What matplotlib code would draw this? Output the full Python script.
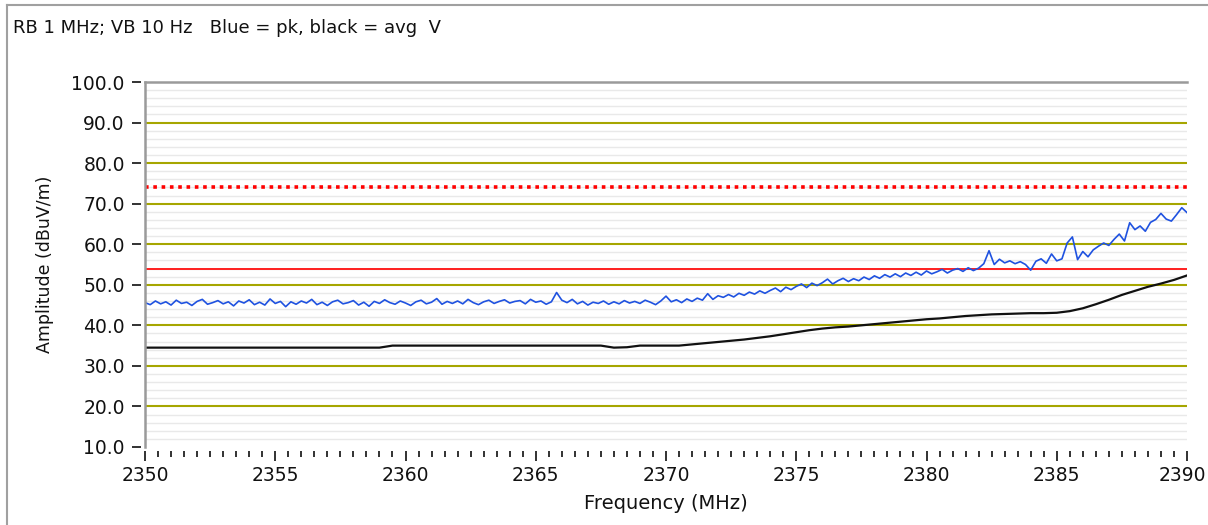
import numpy as np
import matplotlib
matplotlib.use("Agg")
import matplotlib.pyplot as plt
from matplotlib.lines import Line2D
from matplotlib.ticker import MultipleLocator
from matplotlib.transforms import ScaledTranslation

# ---------------- data ----------------
title_text = "RB 1 MHz; VB 10 Hz   Blue = pk, black = avg  V"
x_label = "Frequency (MHz)"
y_label = "Amplitude (dBuV/m)"

freq_start, freq_stop = 2350.0, 2390.0
y_ticks = [10, 20, 30, 40, 50, 60, 70, 80, 90, 100]
x_ticks = [2350, 2355, 2360, 2365, 2370, 2375, 2380, 2385, 2390]

limit_peak = 74.0   # red dotted
limit_avg = 54.0    # red solid

# peak trace, every 0.2 MHz from 2350 to 2390
peak_values = [
    45.6, 45.1, 46.0, 45.3, 45.8,
    45.0, 46.2, 45.4, 45.7, 44.9,
    45.9, 46.4, 45.2, 45.6, 46.1,
    45.3, 45.8, 44.8, 46.0, 45.5,
    46.3, 45.1, 45.7, 45.0, 46.5,
    45.4, 45.9, 44.6, 45.8, 45.2,
    46.0, 45.5, 46.4, 45.1, 45.7,
    44.9, 45.8, 46.2, 45.3, 45.6,
    46.1, 45.0, 45.7, 44.7, 45.9,
    45.4, 46.3, 45.6, 45.2, 46.0,
    45.5, 44.9, 45.8, 46.2, 45.3,
    45.7, 46.6, 45.2, 45.9, 45.4,
    46.0, 45.3, 46.4, 45.6, 45.1,
    45.8, 46.2, 45.4, 45.9, 46.3,
    45.5, 45.9, 46.1, 45.3, 46.4,
    45.7, 46.0, 45.2, 45.8, 48.1,
    46.2, 45.6, 46.4, 45.3, 45.9,
    45.0, 45.7, 45.4, 46.0, 45.2,
    45.8, 45.3, 46.1, 45.5, 45.9,
    45.4, 46.2, 45.7, 45.1, 46.0,
    47.2, 45.8, 46.3, 45.6, 46.5,
    45.9, 46.7, 46.2, 47.8, 46.4,
    47.3, 46.9, 47.6, 47.0, 47.9,
    47.4, 48.2, 47.7, 48.5, 47.9,
    48.6, 49.2, 48.3, 49.4, 48.8,
    49.6, 50.2, 49.3, 50.4, 49.8,
    50.5, 51.4, 50.2, 51.0, 51.6,
    50.8, 51.5, 51.0, 51.9, 51.3,
    52.2, 51.6, 52.5, 51.9, 52.7,
    52.0, 52.9, 52.3, 53.1, 52.4,
    53.4, 52.7, 53.2, 53.8, 52.9,
    53.6, 54.0, 53.3, 54.2, 53.5,
    54.1, 55.2, 58.4, 55.0, 56.3,
    55.4, 55.9, 55.2, 55.7, 55.0,
    53.6, 55.8, 56.4, 55.3, 57.6,
    55.9, 56.4, 60.3, 61.8, 56.2,
    58.2, 56.9, 58.6, 59.5, 60.3,
    59.7, 61.2, 62.5, 60.8, 65.3,
    63.6, 64.5, 63.2, 65.4, 66.1,
    67.6, 66.2, 65.7, 67.3, 69.0,
    67.8,
]

# average trace, every 0.5 MHz from 2350 to 2390
avg_values = [
    34.5, 34.5, 34.5, 34.5, 34.5, 34.5, 34.5, 34.5, 34.5, 34.5,
    34.5, 34.5, 34.5, 34.5, 34.5, 34.5, 34.5, 34.5, 34.5,
    35.0, 35.0, 35.0, 35.0, 35.0, 35.0, 35.0, 35.0, 35.0, 35.0,
    35.0, 35.0, 35.0, 35.0, 35.0, 35.0, 35.0,
    34.5, 34.6, 35.0, 35.0, 35.0, 35.0, 35.3, 35.6, 35.9, 36.2,
    36.5, 36.9, 37.3, 37.8, 38.3, 38.8, 39.2, 39.5, 39.7, 40.0,
    40.3, 40.6, 40.9, 41.2, 41.5, 41.7, 42.0, 42.3, 42.5, 42.7,
    42.8, 42.9, 43.0, 43.0, 43.1, 43.5, 44.2, 45.2, 46.3, 47.5,
    48.5, 49.5, 50.3, 51.2, 52.3,
]

peak_freq = np.linspace(freq_start, freq_stop, len(peak_values))
avg_freq = np.linspace(freq_start, freq_stop, len(avg_values))

# ---------------- figure ----------------
W, H = 1208, 525
fig = plt.figure(figsize=(W / 100, H / 100), dpi=100)
fig.patch.set_facecolor("white")

# outer panel frame (left and top)
fig.add_artist(Line2D([7 / W, 7 / W], [0, 1 - 5 / H], color="#a0a0a0", lw=1.5))
fig.add_artist(Line2D([7 / W, 1], [1 - 5 / H, 1 - 5 / H], color="#a0a0a0", lw=1.5))

fig.text(13 / W, 1 - 28 / H, title_text, fontsize=13, va="center", ha="left",
         color="#111111", family="DejaVu Sans")

left, right, top, bottom = 145, 1187, 82, 447
ax = fig.add_axes([left / W, 1 - bottom / H, (right - left) / W, (bottom - top) / H])
ax.set_xlim(freq_start, freq_stop)
ax.set_ylim(10, 100)

# grid lines
minor_y = [v for v in range(12, 100, 2) if v % 10 != 0]
ax.hlines(minor_y, freq_start, freq_stop, colors="#e9e9e9", lw=1.0, zorder=1)
ax.hlines(y_ticks[1:-1], freq_start, freq_stop, colors="#a6a600", lw=1.5, zorder=2)

# limit lines
ax.axhline(limit_peak, color="#ff0000", lw=2.6, ls=(0, (1, 1.3)), zorder=3)
ax.axhline(limit_avg, color="#ff2020", lw=1.4, zorder=3)

# traces
ax.plot(avg_freq, avg_values, color="#111111", lw=1.6, zorder=4)
ax.plot(peak_freq, peak_values, color="#1f52e0", lw=1.2, zorder=5)

# frame: top and left as gray lines at the data edge
for s in ["right", "bottom", "left", "top"]:
    ax.spines[s].set_visible(False)
ax.axhline(100, color="#9a9a9a", lw=1.8, zorder=6, clip_on=False)
ax.axvline(freq_start, color="#9a9a9a", lw=1.8, zorder=6, clip_on=False)

# spines moved outward so ticks are detached from the frame
ax.spines["left"].set_position(("outward", 3))
ax.spines["bottom"].set_position(("outward", 3))

ax.set_yticks(y_ticks)
ax.set_yticklabels([f"{v:.1f}" for v in y_ticks])
ax.set_xticks(x_ticks)
ax.set_xticklabels([str(v) for v in x_ticks])
ax.xaxis.set_minor_locator(MultipleLocator(0.5))

ax.tick_params(axis="y", which="major", direction="out", length=6.5, width=1.3,
               color="#222222", pad=5, labelsize=13.5, labelcolor="#111111")
ax.tick_params(axis="x", which="major", direction="out", length=7, width=1.3,
               color="#222222", pad=4, labelsize=13.5, labelcolor="#111111")
ax.tick_params(axis="x", which="minor", direction="out", length=4, width=1.3,
               color="#222222")

# keep the last x label inside the figure
last_lbl = ax.get_xticklabels()[-1]
last_lbl.set_transform(last_lbl.get_transform() + ScaledTranslation(-5 / 100, 0, fig.dpi_scale_trans))

ax.set_xlabel(x_label, fontsize=14, color="#111111")
ax.xaxis.set_label_coords(0.5, (447 - 494) / 365)
ax.set_ylabel(y_label, fontsize=12.5, color="#111111")
ax.yaxis.set_label_coords((54 - 145) / 1042, 0.5)

fig.savefig("out.png", dpi=100, facecolor="white")
